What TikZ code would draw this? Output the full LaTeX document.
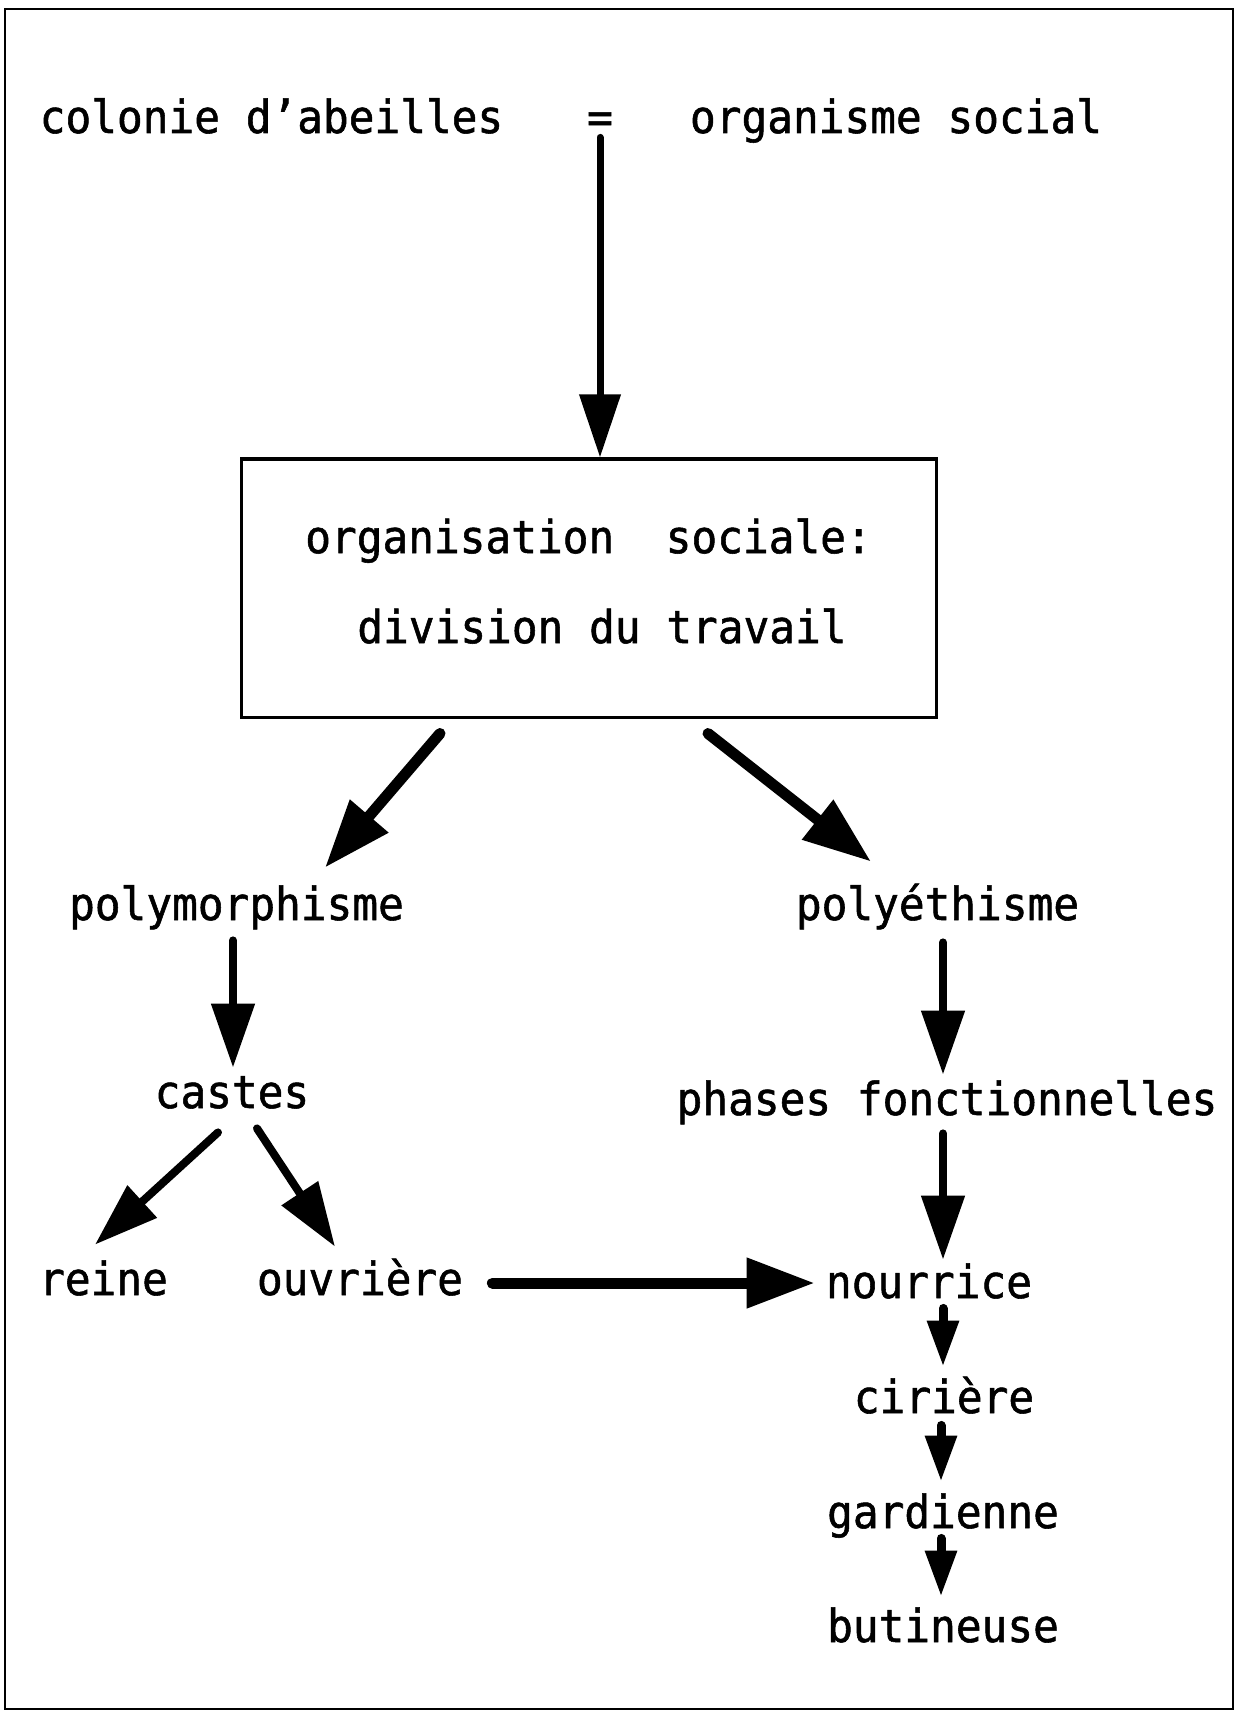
\documentclass[tikz,border=0pt]{standalone}
\usepackage{fontspec}
\newfontfamily\typewriter[FakeStretch=0.94, FakeBold=1.2]{DejaVu Sans Mono}
\usetikzlibrary{arrows.meta,calc}

\begin{document}
\begin{tikzpicture}[
  x=0.5pt, y=-0.5pt,
  font=\typewriter\fontsize{22.75pt}{45pt}\selectfont,
  term/.style={inner sep=0pt, anchor=base, text height=17pt, text depth=5pt},
  boxed/.style={draw, line width=1.5pt, inner sep=0pt, align=center,
    minimum width=347.5pt, minimum height=129pt},
  longarrow/.style={line width=3.5pt, line cap=round, -{Triangle[length=31.5pt, width=20pt]}},
  fatarrow/.style={line width=5.5pt, line cap=round, -{Triangle[length=34pt, width=24pt]}},
  stdarrow/.style={line width=4pt, line cap=round, -{Triangle[length=32pt, width=21pt]}},
  smallarrow/.style={line width=4.5pt, line cap=round, -{Triangle[length=23pt, width=15pt]}},
]
  \useasboundingbox (0,0) rectangle (1235,1711);
  \draw[line width=1.2pt] (5,9) rectangle (1233,1709);

  % top line
  \node[term] (colonie) at (271.5,133) {colonie d’abeilles};
  \node[term] (eq) at (600,133) {=};
  \node[term] (organisme) at (896,133) {organisme social};

  \node[boxed] (box) at (588.5,588)
    {organisation\ \ sociale:\rule{0pt}{17pt}\\
     \hspace*{13.5pt}division du travail\rule[-7.3pt]{0pt}{7.3pt}};

  % left branch
  \node[term] (polym) at (236.5,920) {polymorphisme};
  \node[term] (castes) at (232,1108) {castes};
  \node[term] (reine) at (103.5,1295) {reine};
  \node[term] (ouvriere) at (360,1295) {ouvrière};

  % right branch
  \node[term] (polyeth) at (937.5,920) {polyéthisme};
  \node[term] (phases) at (947,1115) {phases fonctionnelles};
  \node[term] (nourrice) at (929,1298) {nourrice};
  \node[term] (ciriere) at (944,1413) {cirière};
  \node[term] (gardienne) at (943,1528) {gardienne};
  \node[term] (butineuse) at (943,1642) {butineuse};

  \draw[longarrow] ($(eq.south)+(0,-6)$) -- (eq.south |- box.north);
  \draw[fatarrow] ($(box.south)+(-148.5,15)$) -- ($(polym.north)+(88.5,-18)$);
  \draw[fatarrow] ($(box.south)+(119.5,15)$) -- ($(polyeth.north)+(-66.5,-24)$);

  \draw[stdarrow] ($(polym.south)+(-3.5,10)$) -- ($(castes.north)+(1,-6)$);
  \draw[stdarrow] ($(castes.south)+(-14,14)$) -- ($(reine.north)+(-8.5,-16)$);
  \draw[stdarrow] ($(castes.south)+(25,10)$) -- ($(ouvriere.north)+(-25,-14)$);

  \draw[stdarrow] ($(polyeth.south)+(5.5,12)$) -- ($(phases.north)+(-4,-6)$);
  \draw[stdarrow] ($(phases.south)+(-4,8)$) -- ($(nourrice.north)+(14,-4)$);
  \draw[fatarrow, shorten <=14.5pt, shorten >=5.5pt] (ouvriere.east) -- (ouvriere.east -| nourrice.west);

  \draw[smallarrow] ($(nourrice.south)+(14,0)$) -- ($(ciriere.north)+(-1,-12)$);
  \draw[smallarrow] ($(ciriere.south)+(-3,2)$) -- ($(gardienne.north)+(-2,-12)$);
  \draw[smallarrow] ($(gardienne.south)+(-2,0)$) -- ($(butineuse.north)+(-2,-11)$);
\end{tikzpicture}
\end{document}
